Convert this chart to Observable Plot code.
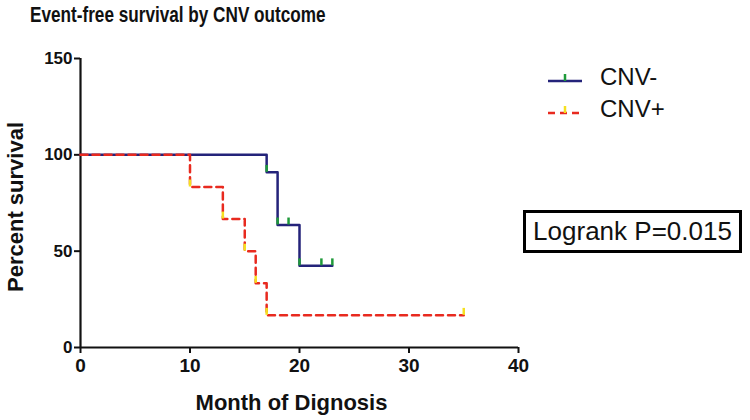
<!DOCTYPE html>
<html><head><meta charset="utf-8">
<script src="https://cdn.jsdelivr.net/npm/d3@7"></script>
<script src="https://cdn.jsdelivr.net/npm/@observablehq/plot@0.6"></script>
<style>
body{margin:0;background:#fff;font-family:"Liberation Sans",Arial,sans-serif;color:#111;}
#wrap{position:relative;width:750px;height:420px;overflow:hidden;}
#chart{position:absolute;left:0;top:0;}
#title{position:absolute;left:30px;top:2px;font-weight:bold;font-size:22px;white-space:nowrap;transform:scaleX(0.78);transform-origin:left center;}
.leg{position:absolute;left:546px;height:24px;display:flex;align-items:center;font-size:24px;}
.leg svg{margin-right:16px;}
#box{position:absolute;left:523px;top:210px;width:213px;height:37px;border:3px solid #000;font-size:26px;display:flex;align-items:center;justify-content:center;white-space:nowrap;}
</style></head><body>
<div id="wrap">
<div id="chart"></div>
<div id="title">Event-free survival by CNV outcome</div>
<div class="leg" style="top:65px"><svg width="38" height="14"><line x1="2" x2="36" y1="11" y2="11" stroke="#24237a" stroke-width="2.5"/><line x1="19" x2="19" y1="11" y2="4" stroke="#1f9a3a" stroke-width="2.5"/></svg><span>CNV-</span></div>
<div class="leg" style="top:97px"><svg width="38" height="14"><line x1="2" x2="36" y1="11" y2="11" stroke="#e82a1f" stroke-width="2.5" stroke-dasharray="7,5"/><line x1="19" x2="19" y1="11" y2="4" stroke="#f5e020" stroke-width="2.5"/></svg><span>CNV+</span></div>
<div id="box">Logrank P=0.015</div>
</div>
<script>
// Kaplan-Meier step data
const negMonths = [0, 17, 18, 20, 23];
const negSurv = [100, 90.9, 63.6, 42.4, 42.4];
const negEventMonths = [17, 18, 20];
const negEventSurv = [90.9, 63.6, 42.4];
const negCensorMonths = [19, 22, 23];
const negCensorSurv = [63.6, 42.4, 42.4];

const posMonths = [0, 10, 13, 15, 16, 17, 35];
const posSurv = [100, 83.3, 66.7, 50, 33.3, 16.7, 16.7];
const posEventMonths = [10, 13, 15, 16, 17];
const posEventSurv = [83.3, 66.7, 50, 33.3, 16.7];
const posCensorMonths = [35];
const posCensorSurv = [16.7];

const xTicks = [0, 10, 20, 30, 40];
const yTicks = [0, 50, 100, 150];

const neg = negMonths.map((m, i) => ({month: m, surv: negSurv[i]}));
const pos = posMonths.map((m, i) => ({month: m, surv: posSurv[i]}));
const negEv = negEventMonths.map((m, i) => ({month: m, surv: negEventSurv[i]}));
const posEv = posEventMonths.map((m, i) => ({month: m, surv: posEventSurv[i]}));
const negCe = negCensorMonths.map((m, i) => ({month: m, surv: negCensorSurv[i]}));
const posCe = posCensorMonths.map((m, i) => ({month: m, surv: posCensorSurv[i]}));

const NAVY = "#24237a", RED = "#e82a1f", GREEN = "#1f9a3a", YELLOW = "#f5e020";
const tickLen = 3.6; // in survival units (~7px)

const plot = Plot.plot({
  width: 750,
  height: 420,
  marginLeft: 80,
  marginRight: 232,
  marginTop: 58,
  marginBottom: 73,
  style: {fontFamily: '"Liberation Sans", Arial, sans-serif', color: "#111", background: "transparent"},
  x: {domain: [0, 40]},
  y: {domain: [0, 150]},
  marks: [
    Plot.axisX({ticks: xTicks, tickSize: 6, tickPadding: 5, fontSize: 19, fontWeight: "bold", strokeWidth: 2, label: null}),
    Plot.axisY({ticks: yTicks, tickSize: 6, tickPadding: 2, fontSize: 17, fontWeight: "bold", strokeWidth: 2, label: null}),
    Plot.ruleY([0], {strokeWidth: 2.2}),
    Plot.ruleX([0], {strokeWidth: 2.2}),
    Plot.line(neg, {x: "month", y: "surv", curve: "step-after", stroke: NAVY, strokeWidth: 2.5}),
    Plot.ruleX(negEv, {x: "month", y1: "surv", y2: d => d.surv + tickLen, stroke: GREEN, strokeWidth: 2.5}),
    Plot.ruleX(negCe, {x: "month", y1: "surv", y2: d => d.surv + tickLen, stroke: GREEN, strokeWidth: 2.5}),
    Plot.line(pos, {x: "month", y: "surv", curve: "step-after", stroke: RED, strokeWidth: 2.5, strokeDasharray: "7,5"}),
    Plot.ruleX(posEv, {x: "month", y1: "surv", y2: d => d.surv + tickLen, stroke: YELLOW, strokeWidth: 2.5}),
    Plot.ruleX(posCe, {x: "month", y1: "surv", y2: d => d.surv + tickLen, stroke: YELLOW, strokeWidth: 2.5}),
    Plot.text(["Month of Dignosis"], {frameAnchor: "bottom", dx: -8, dy: 62, fontSize: 22, fontWeight: "bold"}),
    Plot.text(["Percent survival"], {frameAnchor: "left", textAnchor: "middle", rotate: -90, dx: -65, dy: 4, fontSize: 22, fontWeight: "bold"})
  ]
});
document.getElementById("chart").appendChild(plot);
</script>
</body></html>
